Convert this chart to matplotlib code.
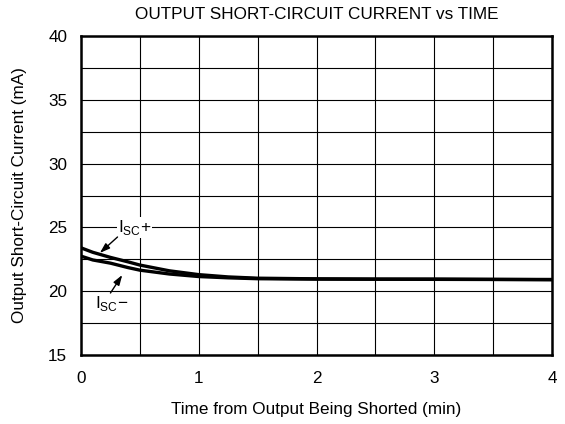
import matplotlib
matplotlib.use("Agg")
import matplotlib.pyplot as plt

plt.rcParams['font.family'] = ['Liberation Sans', 'DejaVu Sans']

t = [0, 0.1, 0.25, 0.4, 0.5, 0.75, 1.0, 1.25, 1.5, 2.0, 2.5, 3.0, 3.5, 4.0]
isc_plus = [23.4, 23.05, 22.65, 22.3, 22.05, 21.6, 21.3, 21.12, 21.02, 20.97, 20.95, 20.95, 20.93, 20.92]
isc_minus = [22.75, 22.45, 22.2, 21.85, 21.65, 21.35, 21.15, 21.05, 20.98, 20.95, 20.94, 20.93, 20.92, 20.9]

title = "OUTPUT SHORT-CIRCUIT CURRENT vs TIME"
xlabel = "Time from Output Being Shorted (min)"
ylabel = "Output Short-Circuit Current (mA)"

FS = 12.3

fig = plt.figure(figsize=(5.65, 4.24), dpi=100)
ax = fig.add_axes([0.1434, 0.1627, 0.977 - 0.1434, 0.915 - 0.1627])

ax.plot(t, isc_plus, color='black', lw=2.4, solid_capstyle='butt', zorder=3)
ax.plot(t, isc_minus, color='black', lw=2.4, solid_capstyle='butt', zorder=3)

ax.set_xlim(0, 4)
ax.set_ylim(15, 40)
ax.set_xticks([0, 1, 2, 3, 4])
ax.set_yticks([15, 20, 25, 30, 35, 40])
ax.set_xticks([0.5 * i for i in range(9)], minor=True)
ax.set_yticks([15 + 2.5 * i for i in range(11)], minor=True)
ax.grid(which='both', color='black', lw=0.8)
ax.tick_params(which='both', length=0, labelsize=FS, pad=10)
ax.tick_params(axis='x', which='both', pad=11.5)
for s in ax.spines.values():
    s.set_linewidth(1.8)

ax.set_title(title, fontsize=FS, pad=12.5)
ax.set_xlabel(xlabel, fontsize=FS, labelpad=11.5)
ax.set_ylabel(ylabel, fontsize=FS, labelpad=15)

arrow = dict(arrowstyle='-|>,head_length=0.6,head_width=0.2', color='black', lw=1.0, shrinkA=0, shrinkB=0)
ax.text(0.31, 25.0, r'I$_{\mathregular{SC}}$+', fontsize=FS, va='center', ha='left',
        bbox=dict(facecolor='white', edgecolor='none', pad=0.5), zorder=4)
ax.annotate('', xy=(0.16, 23.0), xytext=(0.31, 24.25), arrowprops=arrow, zorder=4)
ax.text(0.12, 19.0, r'I$_{\mathregular{SC}}$−', fontsize=FS, va='center', ha='left',
        bbox=dict(facecolor='white', edgecolor='none', pad=0.5), zorder=4)
ax.annotate('', xy=(0.35, 21.27), xytext=(0.25, 19.86), arrowprops=arrow, zorder=4)

fig.savefig('out.png', dpi=100)
